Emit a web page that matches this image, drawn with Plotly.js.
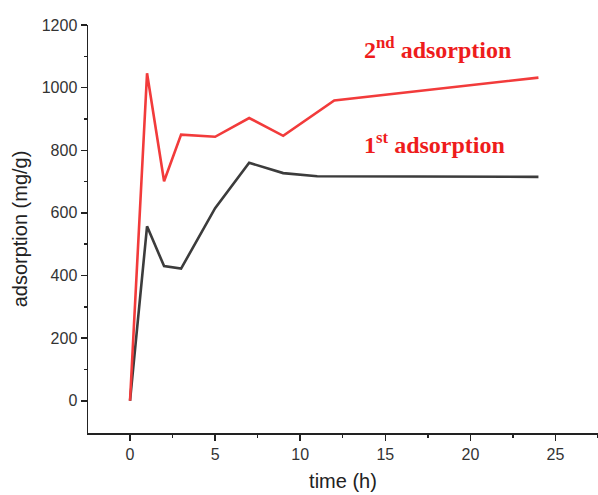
<!DOCTYPE html>
<html><head><meta charset="utf-8">
<script src="https://cdn.plot.ly/plotly-3.0.1.min.js"></script>
<style>body{margin:0;background:#fff}#chart{width:598px;height:495px}</style>
</head><body><div id="chart"></div>
<script>
const time1 = [0, 1, 2, 3, 5, 7, 9, 10, 11, 24];
const ads1 = [0, 557, 430, 422, 615, 760, 727, 721, 717, 715];
const time2 = [0, 1, 2, 3, 5, 7, 9, 12, 24];
const ads2 = [0, 1046, 701, 850, 843, 903, 846, 959, 1032];
const label1 = "1<sup>st</sup> adsorption";
const label2 = "2<sup>nd</sup> adsorption";

const traces = [
  {x: time1, y: ads1, mode: 'lines', line: {color: '#3c3c3c', width: 2.6}, name: '1st'},
  {x: time2, y: ads2, mode: 'lines', line: {color: '#f23b3b', width: 2.6}, name: '2nd'}
];
const layout = {
  width: 598, height: 495,
  margin: {l: 88, r: 0, t: 25, b: 62},
  showlegend: false,
  paper_bgcolor: '#fff', plot_bgcolor: '#fff',
  font: {family: 'Liberation Sans, Arial, sans-serif', color: '#333', size: 15},
  xaxis: {
    range: [-2.47, 27.5], showgrid: false, zeroline: false,
    showline: true, linecolor: '#222', linewidth: 1.5,
    ticks: 'outside', ticklen: 6, tickwidth: 1.5, tickcolor: '#222',
    tickvals: [0, 5, 10, 15, 20, 25], ticktext: ['0','5','10','15','20','25'],
    minor: {ticks: 'outside', ticklen: 3, tickwidth: 1.5, tickcolor: '#222', tickvals: [-2.5, 2.5, 7.5, 12.5, 17.5, 22.5, 27.5]},
    tickfont: {size: 16, color: '#333'},
    title: {text: 'time (h)', font: {size: 20, color: '#222'}, standoff: 12}
  },
  yaxis: {
    range: [-103, 1200], showgrid: false, zeroline: false,
    showline: true, linecolor: '#222', linewidth: 1.5,
    ticks: 'outside', ticklen: 6, tickwidth: 1.5, tickcolor: '#222',
    tickvals: [0, 200, 400, 600, 800, 1000, 1200],
    minor: {ticks: 'outside', ticklen: 3, tickwidth: 1.5, tickcolor: '#222', tickvals: [100, 300, 500, 700, 900, 1100]},
    tickfont: {size: 16, color: '#333'},
    title: {text: 'adsorption (mg/g)', font: {size: 20, color: '#222'}, standoff: 8}
  },
  annotations: [
    {xref: 'paper', yref: 'paper', x: (362-88)/510, y: (433-48)/408, xanchor: 'left', yanchor: 'middle',
     text: label2, showarrow: false, font: {family: 'Liberation Serif, Times New Roman, serif', size: 24, color: '#ee1c1c', weight: 'bold'}},
    {xref: 'paper', yref: 'paper', x: (362-88)/510, y: (433-143)/408, xanchor: 'left', yanchor: 'middle',
     text: label1, showarrow: false, font: {family: 'Liberation Serif, Times New Roman, serif', size: 24, color: '#ee1c1c', weight: 'bold'}}
  ]
};
Plotly.newPlot('chart', traces, layout, {displayModeBar: false, staticPlot: true});
</script></body></html>
